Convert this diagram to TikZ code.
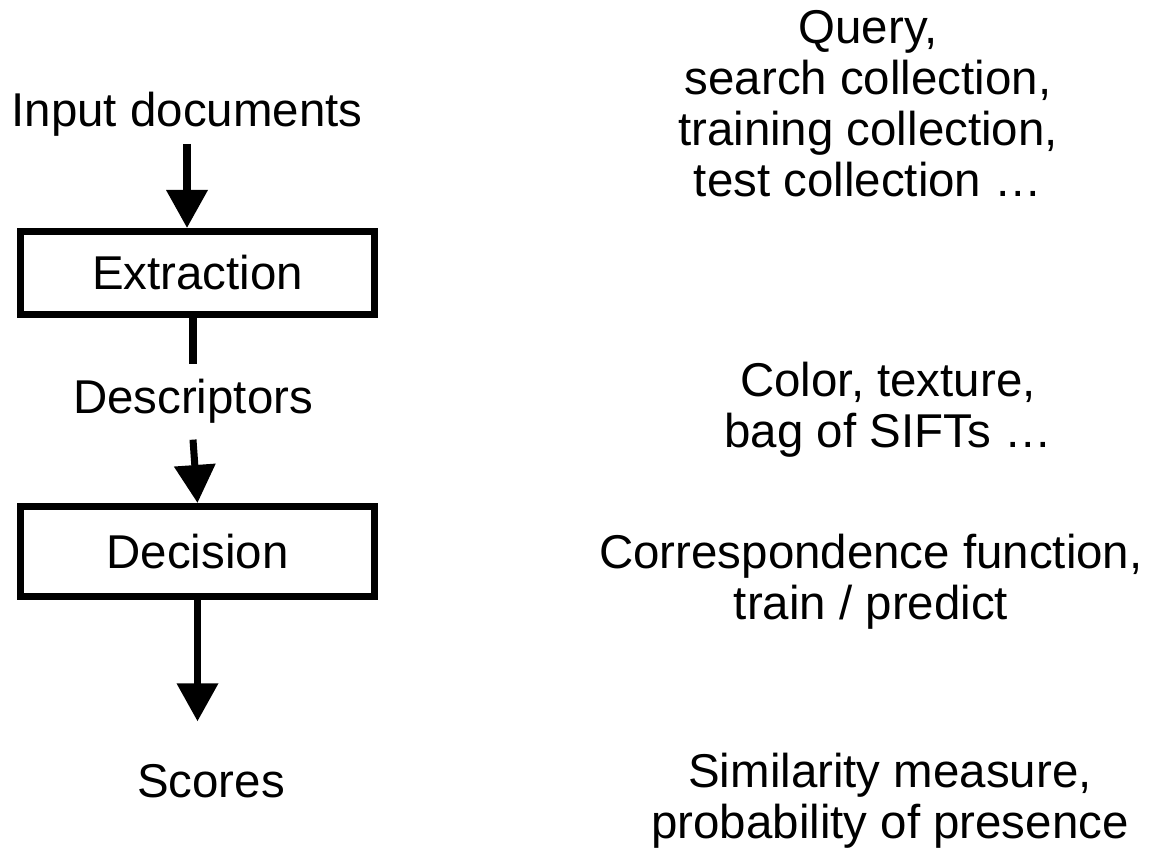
\documentclass[tikz,border=0pt]{standalone}
\usepackage{fontspec}
\setmainfont{Liberation Sans}
\usetikzlibrary{arrows.meta}

\begin{document}
\begin{tikzpicture}[>={Triangle[length=7.6mm, width=8mm]}, line width=4pt,
    txt/.style={font=\fontsize{27}{29}\selectfont, inner sep=0pt, align=center},
    blok/.style={draw, font=\fontsize{27}{29}\selectfont, minimum width=7.08cm}]
    \useasboundingbox (0,0) rectangle (23.06,16.98);

    % --- LEWA KOLUMNA (schemat) ---
    % Wejście
    \node[txt, anchor=base] (input) at (3.74, 14.44) {Input documents};

    % Bloki
    \node[blok, minimum height=1.66cm] (extr) at (3.95, 11.52) {Extraction};
    \node[blok, minimum height=1.80cm] (dec) at (3.95, 5.95) {Decision};

    % Etykiety przy strzałkach
    \node[txt, anchor=base, inner sep=7pt] (desc) at (3.86, 8.70) {Descriptors};
    \node[txt, anchor=base] (scores) at (4.22, 1.02) {Scores};

    % Strzałki
    \draw[->, shorten <=2pt] (input.south) -- (input.south |- extr.north);
    \draw (desc.north |- extr.south) -- (desc.north);
    \draw[->] (desc.south) -- (dec.north);
    \draw[->, shorten >=0.8cm] (dec.south) -- (dec.south |- scores.north);

    % --- PRAWA KOLUMNA (opisy) ---
    \node[txt, anchor=north] (query) at (17.36, 16.84)
        {Query,\\search collection,\\training collection,\\test collection …};
    \node[txt, anchor=north] (feat) at (17.76, 9.80)
        {Color, texture,\\bag of SIFTs …};
    \node[txt, anchor=north] (corr) at (17.42, 6.36)
        {Correspondence function,\\train / predict};
    \node[txt, anchor=north] (sim) at (17.80, 1.98)
        {Similarity measure,\\probability of presence};

\end{tikzpicture}
\end{document}
